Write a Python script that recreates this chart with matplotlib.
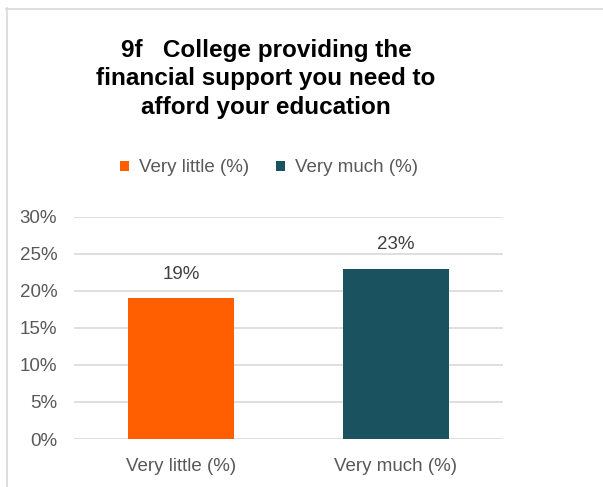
import matplotlib
matplotlib.use("Agg")
import matplotlib.pyplot as plt
from matplotlib.patches import Patch
from matplotlib.lines import Line2D
from matplotlib.ticker import PercentFormatter

categories = ["Very little (%)", "Very much (%)"]
values = [19, 23]
colors = ["#FF5F00", "#1B5260"]
yticks = [0, 5, 10, 15, 20, 25, 30]
title = "9f   College providing the\nfinancial support you need to\nafford your education"

plt.rcParams['font.family'] = ['Liberation Sans', 'DejaVu Sans']
W, H = 603, 487
fig = plt.figure(figsize=(W / 100, H / 100), dpi=100)
fig.patch.set_facecolor("white")

# chart border (left and top visible)
fig.add_artist(Line2D([6.5 / W, 6.5 / W], [0, 1 - 8 / H], transform=fig.transFigure, color="#D9D9D9", lw=1.2))
fig.add_artist(Line2D([6 / W, 1], [1 - 8.5 / H, 1 - 8.5 / H], transform=fig.transFigure, color="#D9D9D9", lw=1.2))

ax = fig.add_axes([74 / W, 48 / H, 429 / W, 222.3 / H])
x = range(len(categories))
bars = ax.bar(x, values, width=0.494, color=colors, zorder=3)
ax.set_xlim(-0.5, len(categories) - 0.5)
ax.set_ylim(0, 30)
ax.set_yticks(yticks)
ax.yaxis.set_major_formatter(PercentFormatter(decimals=0))
ax.set_xticks(list(x))
ax.set_xticklabels(categories)
ax.grid(axis="y", color="#D9D9D9", lw=1.2, zorder=0)
for s in ax.spines.values():
    s.set_visible(False)
ax.tick_params(axis="both", length=0, labelsize=13.5, labelcolor="#595959")
ax.tick_params(axis="y", pad=12)
ax.tick_params(axis="x", pad=14)
for b, v in zip(bars, values):
    ax.text(b.get_x() + b.get_width() / 2, v + 3.2, f"{v}%", ha="center", va="center",
            fontsize=13.5, color="#404040")

fig.text(266 / W, 1 - 79 / H, title, ha="center", va="center", multialignment="center",
         fontsize=17.5, fontweight="bold", color="black", linespacing=1.28)

handles = [Patch(facecolor=c, edgecolor="none") for c in colors]
fig.legend(handles, categories, loc="center", bbox_to_anchor=(269 / W, 1 - 168 / H), ncol=2,
           frameon=False, fontsize=13.5, labelcolor="#595959", handlelength=0.5, handleheight=0.5,
           handletextpad=0.55, columnspacing=1.4)

fig.savefig("out.png", dpi=100)
